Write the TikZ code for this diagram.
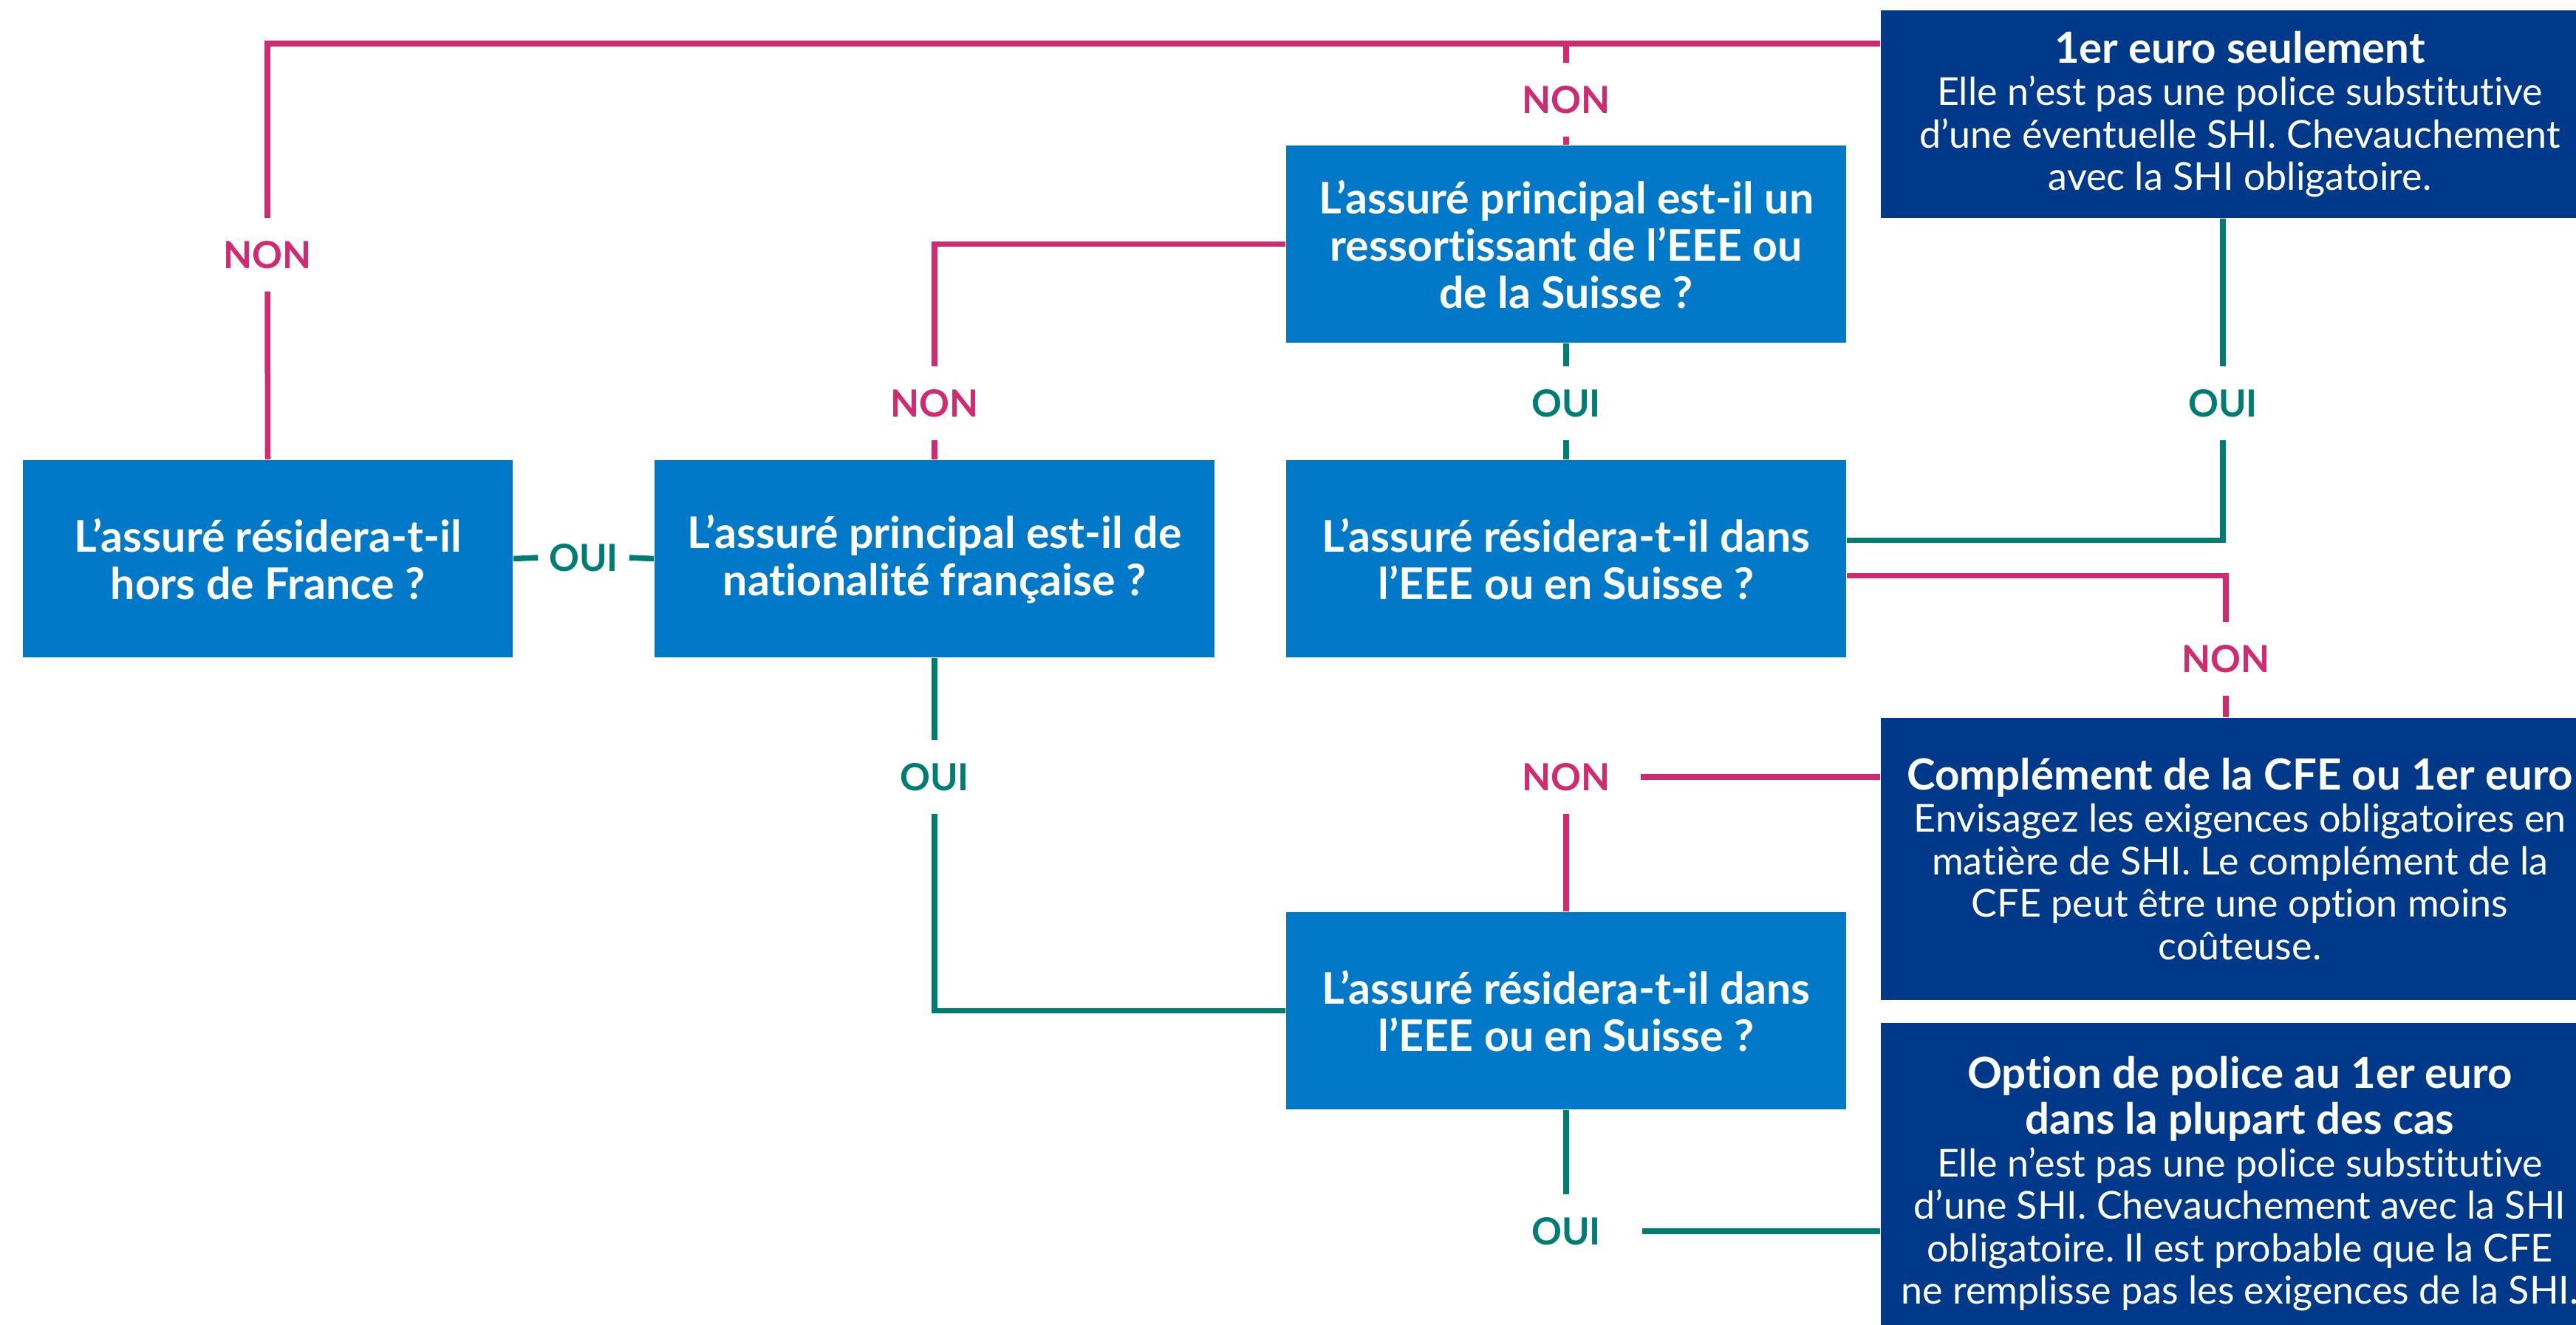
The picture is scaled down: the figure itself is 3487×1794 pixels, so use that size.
\documentclass[tikz,border=0pt]{standalone}
\usepackage{fontspec}
\setmainfont{Lato}[Ligatures={NoCommon}]
\usetikzlibrary{calc}
\definecolor{qblue}{HTML}{0278C8}
\definecolor{rblue}{HTML}{00398A}
\definecolor{magen}{HTML}{D22A6E}
\definecolor{okgreen}{HTML}{007D73}
\newlength\mwq \newlength\mwb \newlength\mwt \newlength\mwl
\tikzset{
  qbox/.style={fill=qblue, text=white, align=center, inner sep=0pt,
    font=\fontsize{\qs pt}{12.8pt}\selectfont\bfseries,
    minimum width=151.6pt, minimum height=53.4pt},
  rbox/.style={fill=rblue, text=white, align=center, inner sep=0pt,
    font=\fontsize{\bs pt}{11.5pt}\selectfont, minimum width=194.4pt},
  lab/.style={font=\fontsize{\ls pt}{\ls pt}\selectfont\bfseries, inner xsep=2.8pt, inner ysep=6pt},
  nonlab/.style={lab, text=magen},
  ouilab/.style={lab, text=okgreen},
  conn/.style={line width=1.5pt},
  nonline/.style={conn, draw=magen},
  ouiline/.style={conn, draw=okgreen},
}
\newcommand\rtitle[1]{{\fontsize{\ts pt}{12.6pt}\selectfont\bfseries #1}}
\frenchspacing
\begin{document}
\settowidth\mwq{\fontsize{10pt}{12pt}\selectfont\bfseries L’assuré principal est-il un}%
\pgfmathsetmacro\qs{10*134/\mwq}%
\settowidth\mwb{\fontsize{10pt}{12pt}\selectfont Elle n’est pas une police substitutive}%
\pgfmathsetmacro\bs{10*164/\mwb}%
\settowidth\mwt{\fontsize{10pt}{12pt}\selectfont\bfseries Complément de la CFE ou 1er euro}%
\pgfmathsetmacro\ts{10*180.2/\mwt}%
\settowidth\mwl{\fontsize{10pt}{12pt}\selectfont\bfseries NON}%
\pgfmathsetmacro\ls{10*23.8/\mwl}%
\begin{tikzpicture}[x=0.2pt,y=-0.2pt]
\clip (0,0) rectangle (3487,1794);
\fill[white] (0,0) rectangle (3487,1794);

% question boxes
\node[qbox, minimum width=132.6pt] (A) at (362.5,756.5) {L’assuré résidera-t-il\\hors de France ?};
\node[qbox] (B) at (1265,756.5) {L’assuré principal est-il de\\nationalité française ?};
\node[qbox] (C) at (2120,330.5) {L’assuré principal est-il un\\ressortissant de l’EEE ou\\de la Suisse ?};
\node[qbox] (D) at (2120,756.5) {L’assuré résidera-t-il dans\\l’EEE ou en Suisse ?};
\node[qbox] (E) at (2120,1368.5) {L’assuré résidera-t-il dans\\l’EEE ou en Suisse ?};

% result boxes
\node[rbox, minimum height=56.2pt] (R1) at (3032,154.5) {\rtitle{1er euro seulement}\\Elle n’est pas une police substitutive\\d’une éventuelle SHI. Chevauchement\\avec la SHI obligatoire.};
\node[rbox, minimum height=76.4pt] (R2) at (3032,1163) {\rtitle{Complément de la CFE ou 1er euro}\\Envisagez les exigences obligatoires en\\matière de SHI. Le complément de la\\CFE peut être une option moins\\coûteuse.};
\node[rbox, minimum height=87pt] (R3) at (3032,1602.5) {\rtitle{Option de police au 1er euro}\\[1pt]\rtitle{dans la plupart des cas}\\Elle n’est pas une police substitutive\\d’une SHI. Chevauchement avec la SHI\\obligatoire. Il est probable que la CFE\\ne remplisse pas les exigences de la SHI.};

% labels
\node[nonlab] (nonA) at (362,345) {NON};
\node[nonlab] (nonC) at (2120,135) {NON};
\node[nonlab] (nonB) at (1265,546) {NON};
\node[ouilab] (ouiC) at (2120,546) {OUI};
\node[ouilab] (ouiR1) at (3009,546) {OUI};
\node[nonlab] (nonR2) at (3013,892) {NON};
\node[ouilab] (ouiB) at (1265,1052) {OUI};
\node[nonlab, inner xsep=8pt] (nonE) at (2120,1052) {NON};
\node[ouilab, inner xsep=11pt] (ouiE) at (2120,1667) {OUI};
\node[ouilab] (ouiAB) at (790,755) {OUI};

% connectors
\coordinate (r1in) at ($(R1.north west)+(0,46)$);
\draw[nonline] (A.north) -- (nonA.south);
\draw[nonline] (nonA.north) |- (r1in);
\draw[nonline] (C.north) -- (nonC.south);
\draw[nonline] (nonC.north) -- (nonC.north |- r1in);
\draw[ouiline] (A.east) -- (ouiAB.west);
\draw[ouiline] (ouiAB.east) -- (B.west);
\draw[nonline] (B.north) -- (nonB.south);
\draw[nonline] (nonB.north) |- (C.west);
\draw[ouiline] (C.south) -- (ouiC.north);
\draw[ouiline] (ouiC.south) -- (D.north);
\draw[ouiline] ($(D.east)+(0,-25)$) -| (ouiR1.south);
\draw[ouiline] (ouiR1.north) -- (ouiR1.north |- R1.south);
\draw[nonline] ($(D.east)+(0,23)$) -| (nonR2.north);
\draw[nonline] (nonR2.south) -- (nonR2.south |- R2.north);
\draw[ouiline] (B.south) -- (ouiB.north);
\draw[ouiline] (ouiB.south) |- (E.west);
\draw[nonline] (E.north) -- (nonE.south);
\draw[nonline] (nonE.east) -- (nonE.east -| R2.west);
\draw[ouiline] (E.south) -- (ouiE.north);
\draw[ouiline] (ouiE.east) -- (ouiE.east -| R3.west);
\end{tikzpicture}
\end{document}
